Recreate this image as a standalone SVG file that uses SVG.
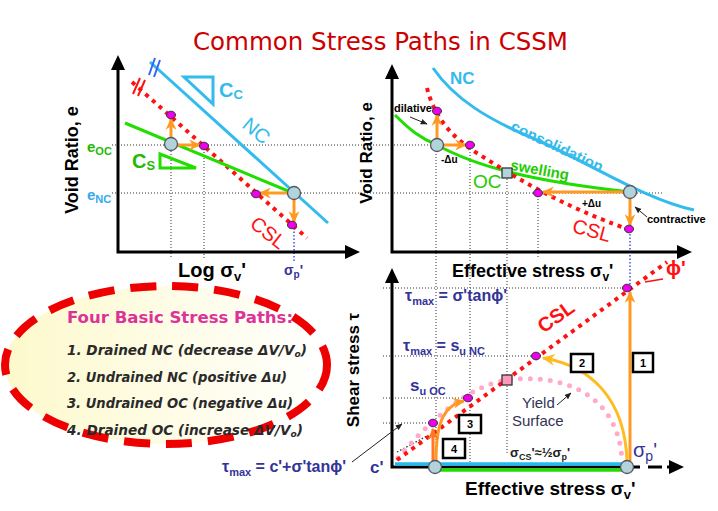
<svg xmlns="http://www.w3.org/2000/svg" width="718" height="511" viewBox="0 0 718 511">
<style>
text{font-family:"Liberation Sans",Arial,sans-serif}
.ax{stroke:#000;stroke-width:3;fill:none}
.ah{fill:#000}
.dot{stroke:#333;stroke-width:1;stroke-dasharray:1 2;fill:none}
.bdot{stroke:#2233ee;stroke-width:1.3;stroke-dasharray:1.5 2;fill:none}
.nc{stroke:#33bbee;stroke-width:3;fill:none}
.csl{stroke:#ff1111;stroke-width:4;stroke-dasharray:4 5;fill:none}
.sw{stroke:#22dd00;stroke-width:3;fill:none}
.or{stroke:#ff9922;stroke-width:3;fill:none;marker-end:url(#oa)}
.gc{fill:#b3d3da;stroke:#556;stroke-width:1.3}
.mg{fill:#ee00ee;stroke:#333;stroke-width:1}
.lab{font-weight:bold;fill:#000}
.db{fill:#333399;font-weight:bold}
.box{fill:#fff;stroke:#000;stroke-width:2.5}
.bt{font-size:11px;font-weight:bold;text-anchor:middle}
.it{font-family:"DejaVu Sans",sans-serif;font-style:italic;font-weight:bold;font-size:13.5px;fill:#2a2a2a}
</style>
<defs>
<marker id="oa" viewBox="0 0 10 10" refX="9" refY="5" markerWidth="12" markerHeight="12" markerUnits="userSpaceOnUse" orient="auto">
<path d="M0,0.5 L10,5 L0,9.5 L3,5 z" fill="#ff9922"/>
</marker>
<marker id="ya" viewBox="0 0 10 10" refX="9" refY="5" markerWidth="13" markerHeight="13" markerUnits="userSpaceOnUse" orient="auto">
<path d="M0,0.5 L10,5 L0,9.5 L3,5 z" fill="#ffbb22"/>
</marker>
<marker id="ra" viewBox="0 0 10 10" refX="9" refY="5" markerWidth="12" markerHeight="12" markerUnits="userSpaceOnUse" orient="auto">
<path d="M0,0.5 L10,5 L0,9.5 L3,5 z" fill="#ff7722"/>
</marker>
<marker id="ka" viewBox="0 0 10 10" refX="9" refY="5" markerWidth="7" markerHeight="7" markerUnits="userSpaceOnUse" orient="auto">
<path d="M0,1 L10,5 L0,9 z" fill="#222"/>
</marker>
<linearGradient id="yg" x1="0" y1="0" x2="1" y2="0">
<stop offset="0" stop-color="#fdf9cc"/>
<stop offset="1" stop-color="#ffffff"/>
</linearGradient>
</defs>
<rect width="718" height="511" fill="#fff"/>

<text id="title" x="193" y="50" font-size="24" fill="#cc0000" textLength="375" lengthAdjust="spacingAndGlyphs" style="font-family:'DejaVu Sans',sans-serif">Common Stress Paths in CSSM</text>

<!-- grid / dotted guide lines -->
<g id="guides">
<path class="dot" d="M112,145 H436 M112,193 H662 M171,145 V258 M204,146 V258"/>
<path class="bdot" d="M294,193 V262"/>
<path class="dot" d="M436,145 V462 M470,146 V467 M507,173 V455 M538,193 V258"/>
<path class="bdot" d="M630,192 V462"/>
<path class="dot" d="M383,288 H627 M383,356 H536 M383,398 H468 M383,423 H433"/>
<path d="M397,452 L427,436" stroke="#333" stroke-width="1.3" stroke-dasharray="1.5 2" fill="none"/>
</g>

<!-- Top-left plot -->
<g id="plot-elog">
<path class="ax" d="M118,252 V66 M116.5,252 H348"/>
<polygon class="ah" points="118,55 111,70 125,70"/>
<polygon class="ah" points="360,252 345,245 345,259"/>
<text class="lab" font-size="18" transform="translate(78,160) rotate(-90)" text-anchor="middle">Void Ratio, e</text>
<line class="nc" x1="150" y1="62" x2="328" y2="223"/>
<path d="M149,75 L155,58 M154,77 L160,60" stroke="#3366ee" stroke-width="2"/>
<line class="csl" x1="132" y1="82" x2="307" y2="238"/>
<path d="M133,94 L140,78 M138,96 L145,80" stroke="#ff1111" stroke-width="2"/>
<line class="sw" x1="125" y1="123" x2="293" y2="193"/>
<polygon points="184,77 213,77 213,104" fill="none" stroke="#33bbee" stroke-width="3"/>
<polygon points="160,154 160,168 196,168" fill="none" stroke="#22dd00" stroke-width="3"/>
<text x="219" y="97" font-size="20" fill="#33bbee" font-weight="bold">C<tspan font-size="13" dy="2">C</tspan></text>
<text x="132" y="168" font-size="20" fill="#22bb00" font-weight="bold">C<tspan font-size="13" dy="2">S</tspan></text>
<text x="87" y="152" font-size="15" fill="#22bb00" font-weight="bold">e<tspan font-size="11" dy="3">OC</tspan></text>
<text x="87" y="200" font-size="15" fill="#33aaee" font-weight="bold">e<tspan font-size="11" dy="3">NC</tspan></text>
<text font-size="20" fill="#33bbee" text-anchor="middle" transform="translate(252,136) rotate(40)">NC</text>
<text font-size="20" fill="#ff1111" text-anchor="middle" transform="translate(264,238) rotate(38)">CSL</text>
<path class="or" d="M171,139 V119"/>
<path class="or" d="M177,145 H200"/>
<path class="or" d="M288,193 H260"/>
<path class="or" d="M294,199 V222"/>
<circle class="gc" cx="171" cy="144" r="6.5"/>
<circle class="gc" cx="294" cy="193" r="6.5"/>
<ellipse class="mg" cx="171" cy="115" rx="4.5" ry="3.8"/>
<ellipse class="mg" cx="204" cy="146" rx="4.5" ry="3.8"/>
<ellipse class="mg" cx="256" cy="194" rx="4.5" ry="3.8"/>
<ellipse class="mg" cx="292" cy="225" rx="4.5" ry="3.8"/>
<text class="lab" x="178" y="277" font-size="20">Log σ<tspan font-size="13" dy="4">v</tspan><tspan dy="-4">'</tspan></text>
<text x="284" y="275" font-size="14" fill="#333399" font-weight="bold">σ<tspan font-size="10" dy="3">p</tspan><tspan dy="-3">'</tspan></text>
</g>

<!-- Top-right plot -->
<g id="plot-earith">
<path class="ax" d="M392,252 V74 M390.5,252 H680"/>
<polygon class="ah" points="392,64 385,79 399,79"/>
<polygon class="ah" points="692,252 677,245 677,259"/>
<text class="lab" font-size="17" transform="translate(372,153) rotate(-90)" text-anchor="middle">Void Ratio, e</text>
<path class="nc" d="M433,68 C455,100 490,120 530,137 C585,160 645,200 694,210"/>
<path class="sw" d="M395,115 C410,130 420,138 437,145 C475,166 530,181 630,192"/>
<path class="csl" d="M427,88 C435,120 455,140 480,155 C520,180 560,205 630,230"/>
<text x="450" y="84" font-size="17" font-weight="bold" fill="#33bbee">NC</text>
<text font-size="15" font-weight="bold" fill="#33bbee" text-anchor="middle" transform="translate(555,151) rotate(25)" textLength="100" lengthAdjust="spacingAndGlyphs">consolidation</text>
<text font-size="15" font-weight="bold" fill="#22cc00" text-anchor="middle" transform="translate(539,175) rotate(10)">swelling</text>
<text x="473" y="188" font-size="19" fill="#22cc00">OC</text>
<text font-size="20" fill="#ff1111" text-anchor="middle" transform="translate(590,237) rotate(15)">CSL</text>
<path class="or" d="M437,139 V115"/>
<path class="or" d="M443,145 H466"/>
<path class="or" d="M624,192 H543"/>
<path class="or" d="M630,198 V225"/>
<circle class="gc" cx="437" cy="145" r="6.5"/>
<circle class="gc" cx="630" cy="192" r="6.5"/>
<rect x="502" y="168" width="10" height="10" fill="#b3d3da" stroke="#333" stroke-width="1.3"/>
<ellipse class="mg" cx="437" cy="111" rx="4.5" ry="3.8"/>
<ellipse class="mg" cx="470" cy="145" rx="4.5" ry="3.8"/>
<ellipse class="mg" cx="538" cy="193" rx="4.5" ry="3.8"/>
<ellipse class="mg" cx="629" cy="229" rx="4.5" ry="3.8"/>
<text class="lab" x="394" y="112" font-size="11">dilative</text>
<path d="M410,117 L427,124" stroke="#222" stroke-width="1" marker-end="url(#ka)"/>
<text class="lab" x="441" y="163" font-size="10">-Δu</text>
<text class="lab" x="582" y="207" font-size="10">+Δu</text>
<text class="lab" x="647" y="223" font-size="11">contractive</text>
<path d="M647,217 L635,207" stroke="#222" stroke-width="1" marker-end="url(#ka)"/>
<text class="lab" x="452" y="277" font-size="18">Effective stress σ<tspan font-size="12" dy="4">v</tspan><tspan dy="-4">'</tspan></text>
</g>

<!-- Bottom-right plot -->
<g id="plot-tau">
<path class="ax" d="M392,467 V279 M390.5,467 H640"/>
<path d="M648,467 H670" stroke="#000" stroke-width="3" stroke-dasharray="14 5"/>
<polygon class="ah" points="392,268 385,283 399,283"/>
<polygon class="ah" points="684,467 669,460 669,474"/>
<line x1="395" y1="464" x2="630" y2="464" stroke="#22bbee" stroke-width="3.5"/>
<line x1="437" y1="470" x2="628" y2="470" stroke="#22dd00" stroke-width="3.5"/>
<text class="lab" font-size="17" transform="translate(359,370) rotate(-90)" text-anchor="middle">Shear stress τ</text>
<path d="M398,458 C430,420 470,385 507,380 C570,372 620,400 622,462" stroke="#ffaacc" stroke-width="5" stroke-linecap="round" stroke-dasharray="0 10" fill="none"/>
<line class="csl" x1="397" y1="460" x2="667" y2="262"/>
<path d="M645,282 L663,279" stroke="#ff1111" stroke-width="1.5"/>
<text x="666" y="275" font-size="20" font-weight="bold" fill="#ff1111">ϕ'</text>
<text font-size="20" font-weight="bold" fill="#ff1111" text-anchor="middle" transform="translate(560,322) rotate(-36)">CSL</text>
<rect x="502" y="375" width="10" height="10" fill="#ff99bb" stroke="#333" stroke-width="1.3"/>
<path class="or" d="M630,461 V292"/>
<path d="M627,461 C625,400 592,366 543,358" stroke="#ffbb22" stroke-width="3" fill="none" marker-end="url(#ya)"/>
<path class="or" d="M436,461 C436,420 445,405 464,401"/>
<path d="M433,461 V429" stroke="#ff7722" stroke-width="3" fill="none" marker-end="url(#ra)"/>
<circle class="gc" cx="435" cy="467" r="6.5"/>
<circle class="gc" cx="627" cy="467" r="6.5"/>
<ellipse class="mg" cx="627" cy="288" rx="4.5" ry="3.8"/>
<ellipse class="mg" cx="536" cy="356" rx="4.5" ry="3.8"/>
<ellipse class="mg" cx="468" cy="398" rx="4.5" ry="3.8"/>
<ellipse class="mg" cx="433" cy="423" rx="4.5" ry="3.8"/>
<rect class="box" x="633" y="353" width="20" height="19"/><text class="bt" x="643" y="367">1</text>
<rect class="box" x="571" y="354" width="22" height="18"/><text class="bt" x="582" y="367">2</text>
<rect class="box" x="459" y="415" width="22" height="18"/><text class="bt" x="470" y="428">3</text>
<rect class="box" x="443" y="439" width="22" height="19"/><text class="bt" x="454" y="453">4</text>
<text class="db" x="405" y="301" font-size="16">τ<tspan font-size="11" dy="4">max</tspan><tspan dy="-4"> = σ'tanϕ'</tspan></text>
<text class="db" x="403" y="351" font-size="16">τ<tspan font-size="11" dy="4">max</tspan><tspan dy="-4"> = s</tspan><tspan font-size="11" dy="4">u NC</tspan></text>
<text class="db" x="410" y="391" font-size="17">s<tspan font-size="11" dy="4">u OC</tspan></text>
<text x="522" y="408" font-size="15" fill="#333355">Yield</text>
<text x="512" y="426" font-size="15" fill="#333355">Surface</text>
<path d="M557,405 L571,393" stroke="#222" stroke-width="1" marker-end="url(#ka)"/>
<text x="510" y="457" font-size="13" font-weight="bold" fill="#222">σ<tspan font-size="9" dy="3">CS</tspan><tspan dy="-3">'≈½σ</tspan><tspan font-size="9" dy="3">p</tspan><tspan dy="-3">'</tspan></text>
<text x="633" y="457" font-size="20" fill="#333399">σ<tspan font-size="14" dy="4">p</tspan><tspan dy="-4">'</tspan></text>
<text class="db" x="370" y="473" font-size="17">c'</text>
<text class="db" x="222" y="472" font-size="16">τ<tspan font-size="11" dy="4">max</tspan><tspan dy="-4"> = c'+σ'tanϕ'</tspan></text>
<path d="M352,462 L402,424" stroke="#222" stroke-width="1" marker-end="url(#ka)"/>
<text class="lab" x="465" y="495" font-size="19">Effective stress σ<tspan font-size="13" dy="4">v</tspan><tspan dy="-4">'</tspan></text>
</g>

<!-- Summary ellipse -->
<g id="summary">
<ellipse cx="166" cy="365" rx="161" ry="79" fill="url(#yg)" stroke="#ee0000" stroke-width="8" stroke-dasharray="26 16"/>
<text x="67" y="323" font-size="16" font-weight="bold" fill="#dd3399" style="font-family:'DejaVu Sans',sans-serif" textLength="226" lengthAdjust="spacingAndGlyphs">Four Basic Stress Paths:</text>
<text class="it" x="67" y="355" textLength="240" lengthAdjust="spacingAndGlyphs">1.  Drained NC (decrease ΔV/V<tspan font-size="9" dy="2">o</tspan><tspan dy="-2">)</tspan></text>
<text class="it" x="67" y="382" textLength="220" lengthAdjust="spacingAndGlyphs">2.  Undrained NC (positive Δu)</text>
<text class="it" x="67" y="408" textLength="226" lengthAdjust="spacingAndGlyphs">3.  Undrained OC (negative Δu)</text>
<text class="it" x="67" y="435" textLength="236" lengthAdjust="spacingAndGlyphs">4.  Drained OC (increase ΔV/V<tspan font-size="9" dy="2">o</tspan><tspan dy="-2">)</tspan></text>
</g>
</svg>
